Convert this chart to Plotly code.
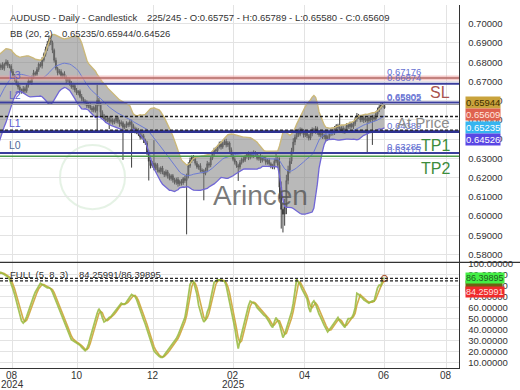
import plotly.graph_objects as go
import pandas as pd

# ---------------- data ----------------
close = [
    0.6425, 0.6398, 0.6445, 0.6470, 0.6502, 0.6488, 0.6531, 0.6560, 0.6548, 0.6589,
    0.6612, 0.6640, 0.6625, 0.6668, 0.6695, 0.6712, 0.6740, 0.6728, 0.6755, 0.6770,
    0.6772, 0.6785, 0.6768, 0.6790, 0.6801, 0.6784, 0.6779, 0.6752, 0.6730, 0.6712,
    0.6688, 0.6671, 0.6655, 0.6648, 0.6662, 0.6651, 0.6680, 0.6702, 0.6695, 0.6721,
    0.6745, 0.6738, 0.6762, 0.6790, 0.6781, 0.6812, 0.6840, 0.6868, 0.6895, 0.6918,
    0.6902, 0.6862, 0.6810, 0.6768, 0.6745, 0.6752, 0.6728, 0.6740, 0.6722, 0.6705,
    0.6712, 0.6690, 0.6671, 0.6678, 0.6655, 0.6640, 0.6648, 0.6622, 0.6610, 0.6598,
    0.6590, 0.6572, 0.6580, 0.6561, 0.6552, 0.6565, 0.6548, 0.6602, 0.6585, 0.6540,
    0.6522, 0.6505, 0.6498, 0.6510, 0.6492, 0.6501, 0.6488, 0.6495, 0.6512, 0.6490,
    0.6478, 0.6485, 0.6462, 0.6470, 0.6481, 0.6475, 0.6490, 0.6472, 0.6455, 0.6440,
    0.6448, 0.6425, 0.6410, 0.6418, 0.6395, 0.6380, 0.6330, 0.6285, 0.6262, 0.6275,
    0.6250, 0.6268, 0.6240, 0.6232, 0.6250, 0.6228, 0.6215, 0.6230, 0.6208, 0.6195,
    0.6210, 0.6188, 0.6175, 0.6190, 0.6168, 0.6180, 0.6172, 0.6195, 0.6185, 0.6210,
    0.6262, 0.6290, 0.6305, 0.6298, 0.6275, 0.6255, 0.6262, 0.6238, 0.6235, 0.6222,
    0.6240, 0.6272, 0.6265, 0.6300, 0.6325, 0.6345, 0.6340, 0.6362, 0.6375, 0.6360,
    0.6378, 0.6388, 0.6370, 0.6380, 0.6345, 0.6320, 0.6295, 0.6280, 0.6262, 0.6255,
    0.6278, 0.6295, 0.6290, 0.6310, 0.6322, 0.6305, 0.6325, 0.6315, 0.6330, 0.6320,
    0.6300, 0.6310, 0.6290, 0.6305, 0.6295, 0.6280, 0.6290, 0.6272, 0.6262, 0.6255,
    0.6285, 0.6298, 0.6265, 0.6150, 0.6035, 0.6010, 0.6045, 0.6185, 0.6240, 0.6285,
    0.6340, 0.6385, 0.6410, 0.6438, 0.6425, 0.6450, 0.6440, 0.6422, 0.6435, 0.6418,
    0.6405, 0.6428, 0.6450, 0.6442, 0.6455, 0.6435, 0.6422, 0.6430, 0.6412, 0.6420,
    0.6402, 0.6410, 0.6428, 0.6440, 0.6432, 0.6455, 0.6470, 0.6462, 0.6445, 0.6458,
    0.6440, 0.6450, 0.6472, 0.6465, 0.6478, 0.6465, 0.6480, 0.6505, 0.6522, 0.6515,
    0.6500, 0.6512, 0.6498, 0.6508, 0.6495, 0.6512, 0.6500, 0.6515, 0.6505, 0.6530,
    0.6552, 0.6568, 0.6580, 0.65757, 0.65609,
]
# wick lengths above / below the body, in pips (visible bars only)
up_wick_pips = [
    12, 9, 15, 8, 14, 10, 7, 11, 13, 9, 6, 12, 10, 8, 14,
    11, 9, 13, 7, 10, 15, 8, 12, 9, 11, 14, 10, 13, 16, 22,
    18, 10, 9, 14, 8, 12, 11, 7, 13, 9, 10, 8, 12, 15, 9,
    11, 7, 10, 13, 8, 9, 12, 10, 7, 11, 9, 14, 80, 12, 8,
    10, 9, 13, 7, 11, 15, 8, 12, 10, 9, 11, 13, 8, 10, 12,
    9, 14, 11, 8, 10, 12, 9, 7, 13, 10, 8, 11, 14, 9, 12,
    120, 10, 8, 13, 9, 11, 7, 12, 10, 14, 8, 9, 11, 10, 13,
    9, 12, 8, 15, 11, 18, 14, 10, 12, 9, 11, 8, 13, 10, 9,
    12, 15, 9, 11, 14, 10, 13, 8, 12, 16, 9, 11, 14, 10, 8,
    12, 9, 11, 7, 10, 13, 9, 12, 8, 11, 14, 9, 10, 12, 8,
    11, 9, 13, 10, 7, 12, 9, 11, 8, 10, 14, 25, 12, 40, 30,
    35, 45, 30, 22, 18, 15, 20, 14, 12, 16, 11, 9, 13, 10, 12,
    8, 14, 11, 9, 13, 10, 12, 8, 11, 9, 14, 10, 12, 9, 11,
    13, 8, 10, 70, 9, 12, 10, 11, 8, 13, 9, 12, 10, 14, 9,
    11, 8, 13, 10, 9, 12, 8, 11, 10, 14, 12, 9, 11, 8, 3.2,
]
dn_wick_pips = [
    10, 13, 8, 12, 9, 14, 11, 9, 15, 12, 10, 13, 18, 11, 9,
    14, 10, 12, 8, 13, 9, 11, 10, 12, 8, 14, 9, 11, 10, 12,
    13, 15, 12, 10, 14, 9, 12, 11, 8, 13, 10, 12, 9, 14, 11,
    10, 12, 9, 13, 11, 14, 10, 12, 9, 11, 13, 10, 100, 14, 30,
    12, 10, 14, 9, 40, 11, 13, 10, 12, 9, 14, 11, 170, 10, 12,
    13, 11, 220, 12, 10, 14, 9, 12, 11, 15, 10, 13, 100, 14, 11,
    12, 10, 13, 9, 14, 11, 12, 10, 13, 9, 11, 14, 10, 12, 15,
    11, 13, 10, 12, 280, 14, 11, 13, 10, 12, 9, 14, 11, 13, 140,
    10, 12, 14, 11, 9, 13, 10, 12, 11, 14, 10, 9, 13, 11, 12,
    14, 10, 12, 11, 72, 13, 10, 12, 9, 11, 14, 10, 12, 13, 11,
    10, 12, 14, 11, 9, 13, 12, 10, 14, 11, 12, 10, 15, 60, 100,
    95, 60, 35, 20, 18, 14, 12, 16, 11, 13, 10, 12, 14, 11, 13,
    12, 10, 13, 11, 14, 12, 10, 13, 11, 12, 14, 10, 12, 11, 13,
    10, 12, 14, 11, 13, 10, 12, 14, 11, 13, 10, 12, 11, 14, 10,
    12, 11, 14, 10, 167, 12, 11, 130, 13, 10, 12, 11, 13, 10, 2.9,
]
stoch_k = [
    91, 92, 91, 90, 89, 88, 86, 82, 77, 72, 66, 60, 55, 48, 46,
    48, 52, 57, 62, 66, 70, 74, 77, 80, 82, 81, 80, 79, 78, 78,
    77, 74, 70, 66, 62, 58, 54, 50, 47, 42, 38, 34, 31, 30, 29,
    28, 27, 26, 24, 22, 21, 23, 27, 33, 39, 45, 50, 55, 59, 56,
    51, 47, 48, 50, 51, 52, 54, 56, 58, 61, 63, 64, 63, 63, 65,
    67, 69, 72, 71, 70, 67, 62, 58, 54, 49, 45, 40, 34, 29, 25,
    21, 19, 17, 16, 15, 15, 17, 19, 21, 23, 25, 27, 29, 32, 35,
    39, 43, 47, 51, 60, 72, 81, 84, 84, 78, 72, 62, 56, 51, 47,
    49, 56, 60, 68, 76, 83, 84, 85, 85, 85, 84, 84, 80, 73, 66,
    58, 50, 42, 32, 23, 30, 37, 43, 50, 56, 62, 66, 65, 64, 63,
    60, 58, 57, 55, 53, 52, 50, 47, 44, 42, 47, 51, 48, 45, 39,
    33, 36, 41, 45, 50, 56, 64, 76, 86, 83, 81, 77, 74, 71, 68,
    60, 56, 64, 66, 63, 58, 54, 51, 47, 44, 41, 38, 40, 42, 44,
    46, 49, 51, 48, 46, 43, 42, 47, 50, 50, 51, 54, 60, 73, 72,
    70, 69, 67, 66, 65, 64, 65, 66, 66, 71, 78, 80.5, 79.98078, 86.40, 86.39895,
]
month_tick_bars = [27.5, 65.3, 109.5, 156.0, 197.8, 243.8, 279.8]
month_tick_text = ["08", "10", "12", "02", "04", "06", "08"]
year_tick_bars = [27.5, 156.0]
year_tick_text = ["2024", "2025"]

level_prices = [0.67176, 0.66874, 0.65905, 0.65802, 0.64389, 0.63285, 0.63115]
level_colors = ["#b36a66", "#3a3d9c", "#3a3d9c", "#9c9c9c", "#2e3290", "#3a3d9c", "#4b9a4b"]
level_widths = [1.4, 2, 2, 1.2, 2.6, 2, 1.5]
zone_prices = [0.65180, 0.64470]

axis_mark_values = [0.65944, 0.65609, 0.65235, 0.64526]
axis_mark_bg = ["#c9a33c", "#df624f", "#36b5f0", "#5a46e4"]
axis_mark_fg = ["#3d2f00", "#ffe6df", "#ffffff", "#ffffff"]

header_1 = "AUDUSD - Daily - Candlestick"
header_2 = "225/245 - O:0.65757 - H:0.65789 - L:0.65580 - C:0.65609"
bb_name, bb_vals = "BB (20, 2)", "0.65235/0.65944/0.64526"
st_name, st_vals = "FULL (5, 8, 3)", "84.25991/86.39895"

# ---------------- derived series ----------------
WARM = 20
s = pd.Series(close)
bb_mid = s.rolling(20).mean()
bb_sd = s.rolling(20).std(ddof=0)
bb_up = bb_mid + 2 * bb_sd
bb_lo = bb_mid - 2 * bb_sd

bars = list(range(WARM, len(close)))
o = [close[i - 1] for i in bars]
c = close[WARM:]
h = [max(a, b) + u / 1e4 for a, b, u in zip(o, c, up_wick_pips)]
l = [min(a, b) - d / 1e4 for a, b, d in zip(o, c, dn_wick_pips)]
k = pd.Series(stoch_k)
dline = k.rolling(3, min_periods=1).mean()

# ---------------- geometry ----------------
W, H = 520, 390
ML, MR, MT, MB = 0, 61, 0, 22
PH = H - MT - MB            # 368
PW = W - ML - MR            # 459
MAIN_PX = 261
split = 1 - MAIN_PX / PH
BAR_PX = 1.72
x_range = [20.5, 20.5 + PW / BAR_PX]
y_range = [0.575897, 0.709744]
y2_range = [5.36, 100.9]


def py(px):  # pixel from top -> paper y
    return 1 - px / PH


def px_main(p):
    return (y_range[1] - p) / (y_range[1] - y_range[0]) * MAIN_PX


def p_main(px):
    return y_range[1] - px / MAIN_PX * (y_range[1] - y_range[0])


def px_st(v):
    return MAIN_PX + (y2_range[1] - v) / (y2_range[1] - y2_range[0]) * (PH - MAIN_PX)


def v_st(px):
    return y2_range[1] - (px - MAIN_PX) / (PH - MAIN_PX) * (y2_range[1] - y2_range[0])


FONT = "Liberation Sans, Arial, sans-serif"

fig = go.Figure()
fig.add_trace(go.Scatter(x=bars, y=bb_up[WARM:], mode="lines",
                         line=dict(color="#cbb87a", width=1.4), hoverinfo="skip"))
fig.add_trace(go.Scatter(x=bars, y=bb_lo[WARM:], mode="lines", fill="tonexty",
                         fillcolor="rgba(128,128,128,0.55)",
                         line=dict(color="#7066d6", width=1.3), hoverinfo="skip"))
fig.add_trace(go.Scatter(x=bars, y=bb_mid[WARM:], mode="lines",
                         line=dict(color="#6c7bd4", width=1), hoverinfo="skip"))
fig.add_trace(go.Candlestick(
    x=bars, open=o, high=h, low=l, close=c,
    increasing=dict(line=dict(color="#3d3d3d", width=1), fillcolor="#a0a0a0"),
    decreasing=dict(line=dict(color="#3d3d3d", width=1), fillcolor="#3d3d3d"),
    hoverinfo="skip"))
fig.add_trace(go.Scatter(x=bars, y=dline, mode="lines", yaxis="y2",
                         line=dict(color="#d2ad4c", width=1.6), hoverinfo="skip"))
fig.add_trace(go.Scatter(x=bars, y=k, mode="lines", yaxis="y2", opacity=0.85,
                         line=dict(color="#96b83c", width=1.8), hoverinfo="skip"))
fig.add_trace(go.Scatter(x=[bars[-1]], y=[stoch_k[-1]], mode="markers", yaxis="y2",
                         marker=dict(size=6, color="rgba(0,0,0,0)",
                                     line=dict(color="#b0603a", width=1.2)),
                         hoverinfo="skip"))

shapes = []
# faint logo ring
shapes.append(dict(type="circle", xref="paper", yref="paper",
                   x0=60 / PW, x1=125 / PW, y0=py(207), y1=py(142),
                   line=dict(color="rgba(150,205,150,0.25)", width=2), layer="below"))
# pink halo of the top level
shapes.append(dict(type="line", xref="paper", yref="y", x0=0, x1=1,
                   y0=level_prices[0], y1=level_prices[0],
                   line=dict(color="rgba(235,160,160,0.55)", width=5), layer="above"))
for p, col, wd in zip(level_prices, level_colors, level_widths):
    shapes.append(dict(type="line", xref="paper", yref="y", x0=0, x1=1, y0=p, y1=p,
                       line=dict(color=col, width=wd), layer="above"))
for p in zone_prices:
    shapes.append(dict(type="line", xref="paper", yref="y", x0=0, x1=1, y0=p, y1=p,
                       line=dict(color="#222", width=1.4, dash="3px,2px"), layer="above"))
for v in [stoch_k[-1], float(dline.iloc[-1])]:
    shapes.append(dict(type="line", xref="paper", yref="y2", x0=0, x1=1, y0=v, y1=v,
                       line=dict(color="#222", width=1.3, dash="3px,2px"), layer="above"))
# pane separator across the full width
shapes.append(dict(type="line", xref="paper", yref="paper", x0=0, x1=W / PW,
                   y0=split, y1=split, line=dict(color="#333", width=1.3)))

ann = []


def txt(x_px, y_px, t, size=9.5, color="#333", xanchor="left", **kw):
    ann.append(dict(xref="paper", yref="paper", x=x_px / PW, y=py(y_px), text=t,
                    showarrow=False, xanchor=xanchor, yanchor="middle",
                    font=dict(family=FONT, size=size, color=color), **kw))


txt(8, 13, header_1)
txt(145, 13, header_2)
txt(8, 29, bb_name)
txt(60, 29, bb_vals)
txt(8, 273, st_name)
txt(77, 273, st_vals)

# level value labels
for p in level_prices:
    ann.append(dict(xref="paper", yref="y", x=385 / PW, y=p, text=f"{p:.5f}",
                    showarrow=False, xanchor="left", yanchor="bottom", yshift=-1,
                    font=dict(family=FONT, size=9.5, color="#6470d2")))

# names of the zones
txt(452, 89, "SL", size=16, color="#a9534f", xanchor="right")
txt(452, 119, "At Price", size=15, color="#8c8c8c", xanchor="right")
txt(452, 142, "TP1", size=16, color="#3c8c3c", xanchor="right")
txt(452, 166, "TP2", size=16, color="#3c8c3c", xanchor="right")
txt(7, 71, "L3", size=10.5, color="#6060cc")
txt(7, 91, "L2", size=10.5, color="#6060cc")
txt(7, 120, "L1", size=10.5, color="#5a5ad0")
txt(7, 141.5, "L0", size=10.5, color="#4f6a98")

# watermark
txt(260, 193, "Arincen", size=28, color="rgba(85,85,85,0.78)", xanchor="center")

# right axis value boxes (stacked)
prev = None
for v, bg, fg in zip(axis_mark_values, axis_mark_bg, axis_mark_fg):
    px = px_main(v) + 1
    if prev is not None and px < prev + 12.3:
        px = prev + 12.3
    prev = px
    ann.append(dict(xref="paper", yref="y", x=1, xshift=6, y=p_main(px),
                    text=f"{v:.5f}", showarrow=False, xanchor="left", yanchor="middle",
                    bgcolor=bg, borderpad=0, font=dict(family=FONT, size=9.5, color=fg)))

# stochastic axis boxes
olive_px = px_st(80)
ann.append(dict(xref="paper", yref="y2", x=1, xshift=6, y=80, text="80.00000",
                showarrow=False, xanchor="left", yanchor="middle", bgcolor="#6e6212",
                borderpad=0, font=dict(family=FONT, size=8.5, color="#6e6212")))
ann.append(dict(xref="paper", yref="y2", x=1, xshift=6, y=stoch_k[-1],
                text=f"{stoch_k[-1]:.5f}", showarrow=False, xanchor="left", yanchor="middle",
                bgcolor="#43ef45", borderpad=0, font=dict(family=FONT, size=9, color="#1d5c1d")))
ann.append(dict(xref="paper", yref="y2", x=1, xshift=6, y=v_st(olive_px + 7),
                text=f"{float(dline.iloc[-1]):.5f}", showarrow=False, xanchor="left",
                yanchor="middle", bgcolor="#ef2b2b", borderpad=0,
                font=dict(family=FONT, size=9, color="#ffe0e0")))

# month / year rows under the time axis
for xb, t in zip(month_tick_bars, month_tick_text):
    ann.append(dict(xref="x", yref="paper", x=xb, y=0, yshift=-7.5, text=t,
                    showarrow=False, xanchor="center", yanchor="middle",
                    font=dict(family=FONT, size=10, color="#333")))
for xb, t in zip(year_tick_bars, year_tick_text):
    ann.append(dict(xref="x", yref="paper", x=xb, y=0, yshift=-16, text=t,
                    showarrow=False, xanchor="center", yanchor="middle",
                    font=dict(family=FONT, size=10, color="#333")))

fig.update_layout(
    width=W, height=H, margin=dict(l=ML, r=MR, t=MT, b=MB),
    paper_bgcolor="white", plot_bgcolor="white", showlegend=False,
    hovermode=False,
    font=dict(family=FONT, size=9.5, color="#333"),
    shapes=shapes, annotations=ann,
    xaxis=dict(domain=[0, 1], anchor="y2", range=x_range, tickvals=month_tick_bars,
               showticklabels=False, showgrid=True, gridcolor="#e3e3e3",
               zeroline=False, showline=True, linecolor="#333", linewidth=1.3,
               ticks="", rangeslider=dict(visible=False)),
    yaxis=dict(domain=[split, 1], anchor="x", side="right", range=y_range,
               tick0=0.58, dtick=0.01, tickformat=".5f", showgrid=True,
               gridcolor="#e3e3e3", zeroline=False, showline=True, linecolor="#333",
               linewidth=1.3, ticks="", ticklabelstandoff=6),
    yaxis2=dict(domain=[0, split], anchor="x", side="right", range=y2_range,
                tick0=0, dtick=10, tickformat=".5f", showgrid=True,
                gridcolor="#e3e3e3", zeroline=False, showline=True, linecolor="#333",
                linewidth=1.3, ticks="", ticklabelstandoff=6),
)

fig.write_html("out.html", config={"displayModeBar": False, "staticPlot": True},
               post_script="document.body.style.margin='0px';document.body.style.padding='0px';")
